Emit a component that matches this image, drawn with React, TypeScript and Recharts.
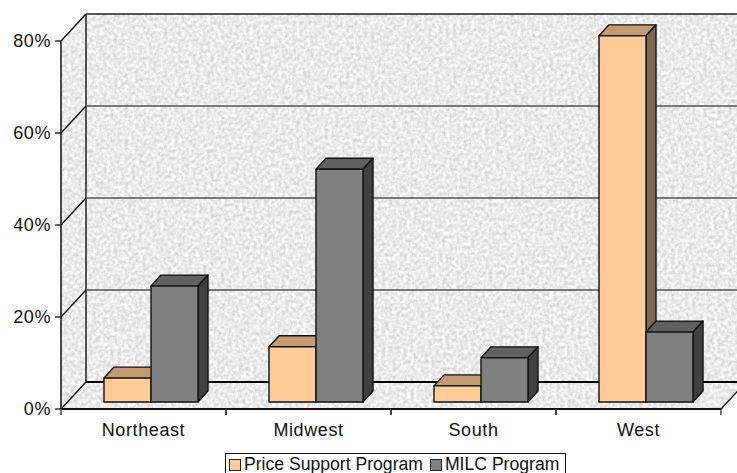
import React from "react";
import { BarChart, Bar, XAxis, YAxis, CartesianGrid, Legend } from "recharts";

// Regional share of producers by program
const regions = ["Northeast", "Midwest", "South", "West"];
const priceSupport = [5.2, 12.0, 3.5, 79.6];
const milc = [25.2, 50.6, 9.6, 15.2];
const percentTicks = [0, 20, 40, 60, 80];

const rows = regions.map((region, i) => ({
  region,
  price: priceSupport[i],
  milc: milc[i],
}));

const W = 737;
const H = 473;
const PLOT = { left: 61, top: 41, right: 721, bottom: 409 };
const WALL_DX = 25;
const WALL_DY = -27;
const BAR_DX = 7.5;
const BAR_DY = -7;
const BOX_DX = 10;
const BOX_DY = -11;
const BAND = (PLOT.right - PLOT.left) / regions.length;
const FONT = "'Liberation Sans', Arial, sans-serif";

// Textured walls and floor sit in their own layer beneath the chart
function Backdrop() {
  const { left, top, right, bottom } = PLOT;
  const backLeft = left + WALL_DX;
  const backTop = top + WALL_DY;
  const backBottom = bottom + WALL_DY;
  return (
    <svg width={W} height={H} style={{ position: "absolute", left: 0, top: 0 }}>
      <defs>
        <filter id="granite" x="0" y="0" width="100%" height="100%" colorInterpolationFilters="sRGB">
          <feTurbulence type="fractalNoise" baseFrequency="0.28" numOctaves={3} seed={4} result="n" />
          <feColorMatrix
            in="n"
            type="matrix"
            values="0.3 0 0 0 0.77  0.3 0 0 0 0.77  0.3 0 0 0 0.77  0 0 0 0 1"
            result="g"
          />
          <feComposite in="g" in2="SourceGraphic" operator="in" />
        </filter>
      </defs>
      <g filter="url(#granite)">
        <rect x={backLeft} y={backTop} width={W - backLeft} height={bottom + WALL_DY - backTop} fill="#000" />
        <polygon
          points={`${left},${top} ${backLeft},${backTop} ${backLeft},${backBottom} ${left},${bottom}`}
          fill="#000"
        />
        <polygon
          points={`${left},${bottom} ${backLeft},${backBottom} ${right + WALL_DX},${backBottom} ${right},${bottom}`}
          fill="#000"
        />
      </g>
      <line x1={backLeft} y1={backTop} x2={backLeft} y2={backBottom} stroke="#222" strokeWidth={1.5} />
    </svg>
  );
}

// Each horizontal grid line runs up the side wall, then across the back wall
function WallLine(props: any) {
  const { x1, x2, y1 } = props;
  const isFloor = Math.abs(y1 - PLOT.bottom) < 1;
  const isTop = Math.abs(y1 - PLOT.top) < 1;
  const back = isFloor ? "#000" : isTop ? "#222" : "#555";
  return (
    <g>
      <line x1={x1} y1={y1} x2={x1 + WALL_DX} y2={y1 + WALL_DY} stroke="#111" strokeWidth={1.4} />
      <line x1={x1 + WALL_DX} y1={y1 + WALL_DY} x2={W} y2={y1 + WALL_DY} stroke={back} strokeWidth={isFloor ? 2 : 1.5} />
      {isFloor && (
        <line x1={x2} y1={y1} x2={x2 + WALL_DX} y2={y1 + WALL_DY} stroke="#111" strokeWidth={1.4} />
      )}
    </g>
  );
}

// Extruded column: front face plus top and side faces
function makeBox(front: string, topFace: string, sideFace: string) {
  return function Box(props: any) {
    const { x, y, width, height } = props;
    const l = x + BAR_DX;
    const r = l + width;
    const t = y + BAR_DY;
    const b = t + height;
    const edge = { stroke: "#111", strokeWidth: 1.4, strokeLinejoin: "round" as const };
    return (
      <g>
        <polygon
          points={`${l},${t} ${l + BOX_DX},${t + BOX_DY} ${r + BOX_DX},${t + BOX_DY} ${r},${t}`}
          fill={topFace}
          {...edge}
        />
        <polygon
          points={`${r},${t} ${r + BOX_DX},${t + BOX_DY} ${r + BOX_DX},${b + BOX_DY} ${r},${b}`}
          fill={sideFace}
          {...edge}
        />
        <rect x={l} y={t} width={width} height={height} fill={front} {...edge} />
      </g>
    );
  };
}

// Category label, with ticks on the band edges rather than the band centre
function CategoryTick(props: any) {
  const { x, y, payload } = props;
  const half = BAND / 2;
  return (
    <g>
      <line x1={x - half} y1={PLOT.bottom} x2={x - half} y2={PLOT.bottom + 6} stroke="#333" strokeWidth={1.4} />
      <line x1={x + half} y1={PLOT.bottom} x2={x + half} y2={PLOT.bottom + 6} stroke="#333" strokeWidth={1.4} />
      <text
        x={x}
        y={y + 19}
        textAnchor="middle"
        fontFamily={FONT}
        fontSize={18}
        letterSpacing={0.6}
        fill="#111"
      >
        {payload.value}
      </text>
    </g>
  );
}

function PercentTick(props: any) {
  const { x, y, payload } = props;
  return (
    <text
      x={x - 2}
      y={y + 6}
      textAnchor="end"
      fontFamily={FONT}
      fontSize={18}
      letterSpacing={0.6}
      fill="#111"
    >
      {payload.value}%
    </text>
  );
}

function LegendBox(props: any) {
  const { payload = [] } = props;
  return (
    <div
      style={{
        boxSizing: "border-box",
        width: 341,
        height: 32,
        border: "1.5px solid #111",
        background: "#fff",
        display: "flex",
        paddingLeft: 3,
        fontFamily: FONT,
        fontSize: 17.6,
        lineHeight: "20px",
        color: "#111",
        whiteSpace: "nowrap",
      }}
    >
      {payload.map((item: any) => (
        <span key={item.value} style={{ display: "flex", alignItems: "flex-start", marginRight: 7 }}>
          <span
            style={{
              boxSizing: "border-box",
              width: 12,
              height: 12,
              marginTop: 5,
              marginRight: 3,
              border: "1.5px solid #222",
              background: item.color,
            }}
          />
          {item.value}
        </span>
      ))}
    </div>
  );
}

const PriceBox = makeBox("#FFCC99", "#C29B74", "#806650");
const MilcBox = makeBox("#808080", "#606060", "#404040");

export default function App() {
  return (
    <div style={{ position: "absolute", left: 0, top: 0, width: W, height: H, overflow: "hidden", background: "#fff" }}>
      <Backdrop />
      <div style={{ position: "absolute", left: 0, top: 0 }}>
        <BarChart
          width={W}
          height={H}
          data={rows}
          margin={{ left: 0, top: PLOT.top, right: W - PLOT.right, bottom: 0 }}
          barCategoryGap={35.5}
          barGap={0}
        >
          <CartesianGrid vertical={false} horizontal={(p: any) => <WallLine key={p.index} {...p} />} syncWithTicks />
          <XAxis
            dataKey="region"
            height={H - PLOT.bottom}
            tickLine={false}
            tick={<CategoryTick />}
            axisLine={{ stroke: "#111", strokeWidth: 2 }}
            interval={0}
          />
          <YAxis
            width={PLOT.left}
            domain={[0, 80]}
            ticks={percentTicks}
            tick={<PercentTick />}
            tickSize={6}
            tickLine={{ stroke: "#222", strokeWidth: 1.4 }}
            axisLine={{ stroke: "#111", strokeWidth: 1.5 }}
          />
          <Bar dataKey="price" name="Price Support Program" fill="#FFCC99" shape={PriceBox} isAnimationActive={false} />
          <Bar dataKey="milc" name="MILC Program" fill="#808080" shape={MilcBox} isAnimationActive={false} />
          <Legend
            content={<LegendBox />}
            layout="horizontal"
            verticalAlign="middle"
            align="center"
            itemSorter={null}
            wrapperStyle={{ position: "absolute", left: 225, top: 453, right: "auto", bottom: "auto", width: 341, height: 32 }}
          />
        </BarChart>
      </div>
    </div>
  );
}
